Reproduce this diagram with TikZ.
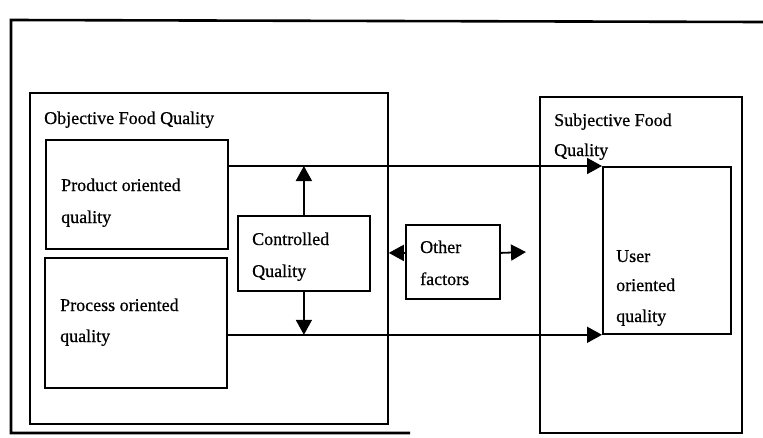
\documentclass[tikz,border=0pt]{standalone}
\usepackage{fontspec}
\setmainfont{Liberation Serif}
\newfontfamily\lblfont{Liberation Serif}[FakeBold=0.6]
\usetikzlibrary{arrows.meta}
\begin{document}
\begin{tikzpicture}[x=1pt,y=-1pt,
  box/.style={draw,line width=1.8pt,rectangle,inner sep=0pt,anchor=north west},
  lbl/.style={anchor=base west,inner sep=0pt,font=\lblfont\fontsize{18}{20}\selectfont},
  arr/.style={line width=1.8pt,-{Triangle[length=15pt,width=16pt]}},
  frame/.style={line width=2.6pt}]
\useasboundingbox (0,0) rectangle (763,437);
% outer frame
\draw[frame] (763,22) -- (11,20) -- (11,433) -- (410,433);
% boxes
\node[box,minimum width=358,minimum height=331] (obj) at (29,92) {};
\node[box,minimum width=182,minimum height=109] (prod) at (45,139) {};
\node[box,minimum width=182,minimum height=130] (proc) at (44,257) {};
\node[box,minimum width=132,minimum height=75] (ctrl) at (237,215) {};
\node[box,minimum width=94,minimum height=74] (other) at (405,224) {};
\node[box,minimum width=202,minimum height=336] (subj) at (539,96) {};
\node[box,minimum width=128,minimum height=167] (user) at (602,166) {};
% texts
\node[lbl] (objt) at (44,124) {Objective Food Quality};
\node[lbl] (prodt1) at (61,191) {Product oriented};
\node[lbl] (prodt2) at (61,223) {quality};
\node[lbl] (proct1) at (60,311) {Process oriented};
\node[lbl] (proct2) at (60,342) {quality};
\node[lbl] (ctrlt1) at (252,245) {Controlled};
\node[lbl] (ctrlt2) at (252,277) {Quality};
\node[lbl] (othert1) at (420,253) {Other};
\node[lbl] (othert2) at (420,285) {factors};
\node[lbl] (subjt1) at (554,126) {Subjective Food};
\node[lbl] (subjt2) at (554,156) {Quality};
\node[lbl] (usert1) at (616,262) {User};
\node[lbl] (usert2) at (616,291) {oriented};
\node[lbl] (usert3) at (616,322) {quality};
% connectors
\draw[arr] (prod.east |- user.north west) -- (user.north west);
\draw[arr] (proc.east |- user.south west) -- (user.south west);
\draw[arr] (ctrl.north) -- (ctrl.north |- user.north west);
\draw[arr] (ctrl.south) -- (ctrl.south |- user.south west);
\draw[arr] ([yshift=9pt]other.west) -- ([yshift=9pt]other.west -| obj.east);
\coordinate (rtip) at (526,252);
\draw[arr] ([yshift=9pt]other.east) -- (rtip);
\end{tikzpicture}
\end{document}
